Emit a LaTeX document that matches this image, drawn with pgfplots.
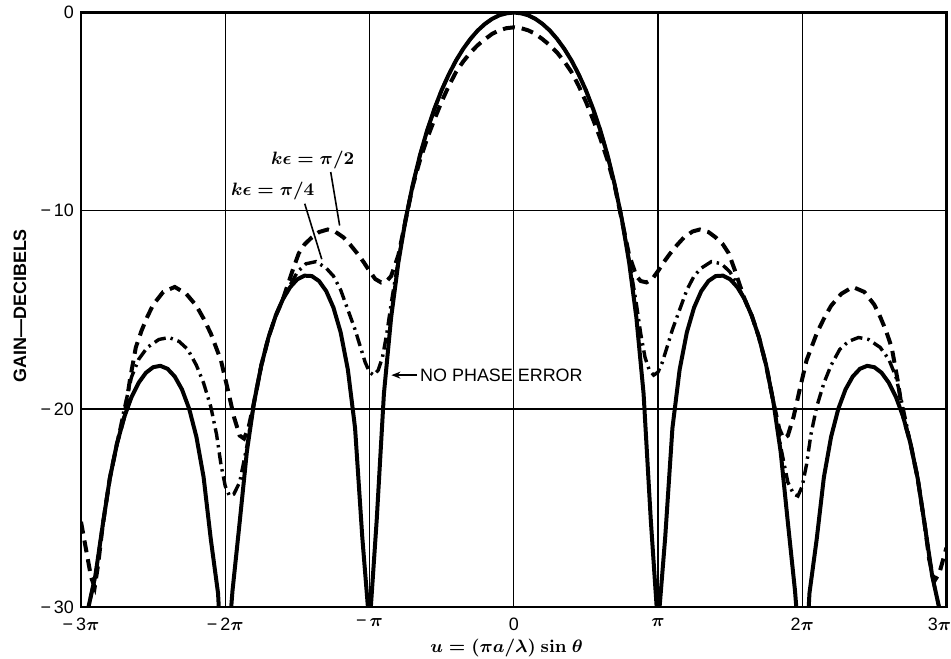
\documentclass[border=0pt]{standalone}
\usepackage{fontspec}
\setmainfont{Liberation Sans}
\usepackage{pgfplots}
\pgfplotsset{compat=1.18}
\usetikzlibrary{arrows.meta}

\DeclareRobustCommand\bpi{{\boldmath$\pi$}}
\DeclareRobustCommand\keps[1]{{\boldmath$k\epsilon = \pi/#1$}}
\DeclareRobustCommand\ulabel{{\boldmath$u = (\pi a/\lambda)\ \mathbf{sin}\ \theta$}}

% abscissa in units of pi: v = u/pi
\begin{document}
\begin{tikzpicture}
\begin{axis}[
  name=ax,
  scale only axis,
  width=432.75bp, height=297.25bp,
  xmin=-3, xmax=3, ymin=-30, ymax=0,
  xtick={-3,-2,-1,0,1,2,3},
  xticklabels={{−\,3\bpi},{−\,2\bpi},{−\,\bpi},0,\bpi,{2\bpi},{\hspace*{-7bp}3\bpi}},
  ytick={-30,-20,-10,0},
  yticklabels={{−\,30},{−\,20},{−\,10},0},
  grid=major,
  major grid style={line width=0.7bp, black},
  axis line style={line width=1.1bp},
  major tick length=0pt,
  tick label style={font=\fontsize{9}{10}\selectfont},
  xticklabel style={yshift=-2bp},
  clip mode=individual,
]

% k epsilon = pi/2
\addplot[black, line width=2bp, dash pattern=on 6bp off 3.5bp] coordinates {
(-3.0,-25.7) (-2.965,-27.1) (-2.93,-28.5) (-2.905,-29.0) (-2.88,-27.8) (-2.85,-25.9) (-2.8,-23.5)
(-2.75,-21.74) (-2.7,-20.41) (-2.66,-18.5) (-2.62,-16.9) (-2.58,-16.05) (-2.54,-15.35) (-2.5,-14.75)
(-2.43,-14.1) (-2.35,-13.85) (-2.27,-14.2) (-2.2,-14.8) (-2.15,-15.45) (-2.1,-16.2) (-2.03,-17.55)
(-1.98,-19.1) (-1.94,-20.4) (-1.9,-21.35) (-1.87,-21.5) (-1.84,-21.0) (-1.8,-19.66) (-1.75,-17.81)
(-1.7,-16.39) (-1.65,-15.3) (-1.6,-14.46) (-1.56,-13.6) (-1.53,-12.95) (-1.49,-12.15) (-1.45,-11.7)
(-1.4,-11.35) (-1.35,-11.08) (-1.29,-10.95) (-1.24,-11.05) (-1.18,-11.35) (-1.13,-11.75) (-1.08,-12.2)
(-1.04,-12.6) (-1.0,-13.05) (-0.96,-13.45) (-0.92,-13.62) (-0.88,-13.55) (-0.85,-13.3) (-0.8,-12.25)
(-0.75,-10.5) (-0.7,-8.75) (-0.65,-7.45) (-0.6,-6.35) (-0.55,-5.4) (-0.5,-4.5) (-0.45,-3.7)
(-0.4,-3.0) (-0.35,-2.47) (-0.3,-2.02) (-0.25,-1.65) (-0.2,-1.35) (-0.15,-1.08) (-0.1,-0.9)
(-0.05,-0.79) (0,-0.75) (0.05,-0.79) (0.1,-0.9) (0.15,-1.08) (0.2,-1.35) (0.25,-1.65) (0.3,-2.02)
(0.35,-2.47) (0.4,-3.0) (0.45,-3.7) (0.5,-4.5) (0.55,-5.4) (0.6,-6.35) (0.65,-7.45) (0.7,-8.75)
(0.75,-10.5) (0.8,-12.25) (0.85,-13.3) (0.88,-13.55) (0.92,-13.62) (0.96,-13.45) (1.0,-13.05)
(1.04,-12.6) (1.08,-12.2) (1.13,-11.75) (1.18,-11.35) (1.24,-11.05) (1.29,-10.95) (1.35,-11.08)
(1.4,-11.35) (1.45,-11.7) (1.49,-12.15) (1.53,-12.95) (1.56,-13.6) (1.6,-14.46) (1.65,-15.3)
(1.7,-16.39) (1.75,-17.81) (1.8,-19.66) (1.84,-21.0) (1.87,-21.5) (1.9,-21.35) (1.94,-20.4)
(1.98,-19.1) (2.03,-17.55) (2.1,-16.2) (2.15,-15.45) (2.2,-14.8) (2.27,-14.2) (2.35,-13.85)
(2.43,-14.1) (2.5,-14.75) (2.54,-15.35) (2.58,-16.05) (2.62,-16.9) (2.66,-18.5) (2.7,-20.41)
(2.75,-21.74) (2.8,-23.5) (2.85,-25.9) (2.88,-27.6) (2.915,-28.7) (2.95,-28.3) (3.0,-27.0)
};

% k epsilon = pi/4
\addplot[black, line width=1.7bp, dash pattern=on 6bp off 2.5bp on 1.2bp off 2.5bp] coordinates {
(-3.0,-32) (-2.96,-30.4) (-2.9,-28.4) (-2.85,-25.9) (-2.8,-23.5) (-2.75,-21.74) (-2.7,-20.0)
(-2.65,-18.4) (-2.6,-17.5) (-2.54,-16.9) (-2.46,-16.5) (-2.39,-16.4) (-2.32,-16.6) (-2.26,-17.0)
(-2.2,-17.8) (-2.15,-18.7) (-2.1,-19.9) (-2.06,-21.3) (-2.03,-22.8) (-2.0,-23.9) (-1.97,-24.4)
(-1.94,-24.3) (-1.9,-23.7) (-1.85,-21.9) (-1.8,-19.66) (-1.75,-17.81) (-1.7,-16.39) (-1.65,-15.3)
(-1.6,-14.46) (-1.55,-13.75) (-1.5,-13.1) (-1.44,-12.68) (-1.37,-12.57) (-1.3,-12.9) (-1.25,-13.3)
(-1.2,-14.0) (-1.14,-15.2) (-1.1,-16.0) (-1.06,-16.95) (-1.03,-17.65) (-1.0,-18.15) (-0.97,-18.3)
(-0.94,-18.05) (-0.91,-17.4) (-0.88,-16.2) (-0.85,-14.7) (-0.8,-12.5) (-0.75,-10.45) (-0.7,-8.69)
(-0.65,-7.2) (-0.6,-5.94) (-0.55,-4.86) (-0.5,-3.92) (-0.45,-3.12) (-0.4,-2.42) (-0.35,-1.83)
(-0.3,-1.33) (-0.25,-0.91) (-0.2,-0.58) (-0.15,-0.32) (-0.1,-0.14) (-0.05,-0.04) (0,0)
(0.05,-0.04) (0.1,-0.14) (0.15,-0.32) (0.2,-0.58) (0.25,-0.91) (0.3,-1.33) (0.35,-1.83) (0.4,-2.42)
(0.45,-3.12) (0.5,-3.92) (0.55,-4.86) (0.6,-5.94) (0.65,-7.2) (0.7,-8.69) (0.75,-10.45) (0.8,-12.5)
(0.85,-14.7) (0.88,-16.2) (0.91,-17.4) (0.94,-18.05) (0.97,-18.3) (1.0,-18.15) (1.03,-17.65)
(1.06,-16.95) (1.1,-16.0) (1.14,-15.2) (1.2,-14.0) (1.25,-13.3) (1.3,-12.9) (1.37,-12.57)
(1.44,-12.68) (1.5,-13.1) (1.55,-13.75) (1.6,-14.46) (1.65,-15.3) (1.7,-16.39) (1.75,-17.81)
(1.8,-19.66) (1.85,-21.9) (1.9,-23.7) (1.94,-24.3) (1.97,-24.4) (2.0,-23.9) (2.03,-22.8)
(2.06,-21.3) (2.1,-19.9) (2.15,-18.7) (2.2,-17.8) (2.26,-17.0) (2.32,-16.6) (2.39,-16.4)
(2.46,-16.5) (2.54,-16.9) (2.6,-17.5) (2.65,-18.4) (2.7,-20.0) (2.75,-21.74) (2.8,-23.5)
(2.85,-25.9) (2.9,-28.4) (2.96,-30.4) (3.0,-32)
};

% no phase error
\addplot[black, line width=2bp] coordinates {
(-3.0,-32) (-2.96,-30.4) (-2.9,-28.4) (-2.85,-25.9) (-2.8,-23.5) (-2.75,-21.74) (-2.7,-20.41)
(-2.65,-19.41) (-2.6,-18.68) (-2.55,-18.18) (-2.5,-17.9) (-2.45,-17.83) (-2.4,-17.98) (-2.35,-18.37)
(-2.3,-19.02) (-2.25,-20.0) (-2.2,-21.41) (-2.15,-23.45) (-2.1,-26.59) (-2.05,-29.3) (-2.03,-32)
(-1.98,-32) (-1.95,-29.2) (-1.9,-25.72) (-1.85,-22.15) (-1.8,-19.66) (-1.75,-17.81) (-1.7,-16.39)
(-1.65,-15.3) (-1.6,-14.46)
(-1.55,-13.86) (-1.5,-13.46) (-1.45,-13.28) (-1.4,-13.3) (-1.35,-13.55) (-1.3,-14.06) (-1.25,-14.89)
(-1.2,-16.14) (-1.15,-18.02) (-1.1,-20.97) (-1.05,-26.48) (-1.0,-31) (-0.95,-25.61) (-0.9,-19.23)
(-0.85,-15.39) (-0.8,-12.62) (-0.75,-10.45) (-0.7,-8.69) (-0.65,-7.2) (-0.6,-5.94) (-0.55,-4.86)
(-0.5,-3.92) (-0.45,-3.12) (-0.4,-2.42) (-0.35,-1.83) (-0.3,-1.33) (-0.25,-0.91) (-0.2,-0.58)
(-0.15,-0.32) (-0.1,-0.14) (-0.05,-0.04) (0,0) (0.05,-0.04) (0.1,-0.14) (0.15,-0.32) (0.2,-0.58)
(0.25,-0.91) (0.3,-1.33) (0.35,-1.83) (0.4,-2.42) (0.45,-3.12) (0.5,-3.92) (0.55,-4.86) (0.6,-5.94)
(0.65,-7.2) (0.7,-8.69) (0.75,-10.45) (0.8,-12.62) (0.85,-15.39) (0.9,-19.23) (0.95,-25.61)
(1.0,-31) (1.05,-26.48) (1.1,-20.97) (1.15,-18.02) (1.2,-16.14) (1.25,-14.89) (1.3,-14.06)
(1.35,-13.55) (1.4,-13.3) (1.45,-13.28) (1.5,-13.46) (1.55,-13.86) (1.6,-14.46) (1.65,-15.3)
(1.7,-16.39) (1.75,-17.81) (1.8,-19.66) (1.85,-22.15) (1.9,-25.72) (1.95,-29.2) (1.98,-32)
(2.03,-32) (2.05,-29.3) (2.1,-26.59) (2.15,-23.45) (2.2,-21.41) (2.25,-20.0) (2.3,-19.02)
(2.35,-18.37) (2.4,-17.98)
(2.45,-17.83) (2.5,-17.9) (2.55,-18.18) (2.6,-18.68) (2.65,-19.41) (2.7,-20.41) (2.75,-21.74)
(2.8,-23.5) (2.85,-25.9) (2.9,-28.4) (2.96,-30.4) (3.0,-32)
};

% anchor points for the annotations
\coordinate (l2) at (axis cs:-1.394,-7.44);
\coordinate (l2a) at (axis cs:-1.269,-8.05);
\coordinate (l2b) at (axis cs:-1.207,-10.75);
\coordinate (l4) at (axis cs:-1.671,-9.01);
\coordinate (l4a) at (axis cs:-1.449,-9.65);
\coordinate (l4b) at (axis cs:-1.331,-12.45);
\coordinate (np) at (axis cs:-0.665,-18.3);
\coordinate (npa) at (axis cs:-0.67,-18.3);
\coordinate (npb) at (axis cs:-0.848,-18.3);
\coordinate (ylab) at (axis cs:-3,-14.8);
\coordinate (xlab) at (axis cs:-0.05,-30);
\end{axis}

\node[font=\fontsize{9}{10}\selectfont] at (l2) {\keps{2}};
\draw[line width=0.8bp] (l2a) -- (l2b);
\node[font=\fontsize{9}{10}\selectfont] at (l4) {\keps{4}};
\draw[line width=0.8bp] (l4a) -- (l4b);
\node[font=\fontsize{9}{10}\selectfont, anchor=west, inner sep=1bp] at (np) {NO PHASE ERROR};
\draw[line width=0.8bp, -{Stealth[length=4.5bp,width=3.5bp]}] (npa) -- (npb);

\node[rotate=90, font=\bfseries\fontsize{9}{10}\selectfont] at ([xshift=-30.5bp]ylab) {GAIN—DECIBELS};
\node[font=\fontsize{9}{10}\selectfont] at ([yshift=-20.75bp]xlab) {\ulabel};
\pgfresetboundingbox
\path[use as bounding box] ([shift={(-40.5bp,-26bp)}]ax.south west) rectangle ([shift={(2.25bp,6.25bp)}]ax.north east);
\end{tikzpicture}
\end{document}
